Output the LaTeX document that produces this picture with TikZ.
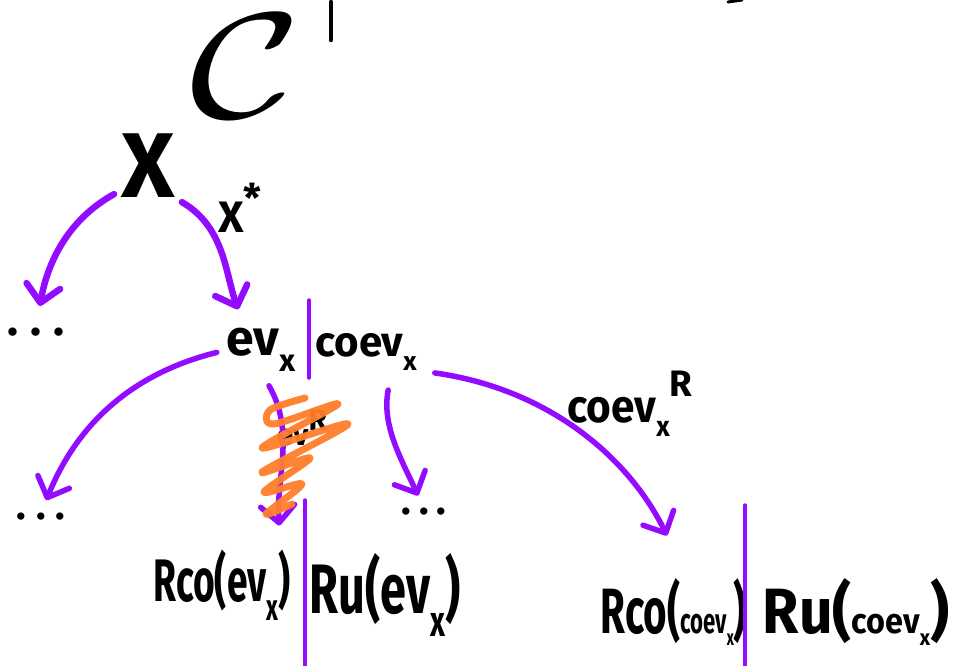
\documentclass[tikz,border=0pt]{standalone}
\usepackage{fontspec}
\setmainfont{Fira Sans}
\usetikzlibrary{arrows.meta}

\definecolor{marker}{RGB}{148,12,255}
\definecolor{scribble}{RGB}{255,126,42}

% font size helper and the little lowered x used for subscripts
\newcommand\fsz[1]{\fontsize{#1}{#1}\selectfont}
\newcommand\sbx{\raisebox{-0.32em}{\scalebox{0.62}{x}}}
\newcommand\hw[2]{\scalebox{#1}[1]{#2}}

\tikzset{
  ink/.style={inner sep=0pt, font=\bfseries, text=black},
  arr/.style={draw=marker, line width=5.5pt, line cap=round, line join=round,
    -{Straight Barb[length=17pt,width=34pt,round]}},
  sep/.style={draw=marker, line width=3.5pt, line cap=round},
  pen/.style={draw=black, line width=4.5pt, line cap=round},
}

\begin{document}
\begin{tikzpicture}[x=1pt,y=-1pt]
\useasboundingbox (0,0) rectangle (961,666);

% category name and the strokes around it
\node[ink] (cat) at (246,66) {\scalebox{19}[15]{$\mathcal{C}$}};
\draw[pen] (331,2) -- (331,40);
\draw[pen, line width=3pt] (728,2) -- (742,0);

% object and its dual
\node[ink] (X) at (148,166) {\fsz{92}X};
\node[ink] (xstar) at (240,208) {\fsz{44}X\raisebox{0.45em}{\scalebox{0.9}{*}}};

% first level
\node[ink] (dotsA) at (36,332) {\fsz{46}.\hspace{12pt}.\hspace{12pt}.};
\node[ink] (ev) at (261,350) {\fsz{50}ev\sbx};
\node[ink] (coev) at (366,352) {\fsz{42}coev\sbx};
\draw[sep] (309,300) -- (309,378);

% second level
\node[ink] (dotsB) at (41,517) {\fsz{40}.\hspace{10pt}.\hspace{10pt}.};
\node[ink] (dotsC) at (424,512) {\fsz{40}.\hspace{8pt}.\hspace{8pt}.};
\node[ink] (evR) at (302,428) {\fsz{30}ev\raisebox{0.5em}{R}};
\node[ink] (coevR) at (630,404) {\fsz{46}\hw{0.92}{coev\sbx}\raisebox{0.55em}{\scalebox{0.8}{R}}};

% results
\node[ink] (rcoEv) at (222,585) {\fsz{60}\hw{0.62}{Rco(ev\sbx)}};
\node[ink] (ruEv) at (385,595) {\fsz{70}\hw{0.67}{Ru(ev\sbx)}};
\draw[sep] (305,500) -- (305,666);
\node[ink] (rcoCoev) at (674,612) {\fsz{64}\hw{0.63}{Rco(\scalebox{0.55}{coev\sbx})}};
\node[ink] (ruCoev) at (856,612) {\fsz{64}\hw{0.92}{Ru(\scalebox{0.55}{coev\sbx})}};
\draw[sep] (745,505) -- (745,666);

% arrows
\draw[arr, line width=6.5pt, shorten <=8pt, shorten >=22pt]
  (X.222) to[out=209, in=80] (dotsA.north);
\draw[arr, line width=6.5pt, shorten <=8pt, shorten >=20pt]
  (X.310) to[out=330, in=110] ([xshift=-16pt]ev.north);
\draw[arr, shorten <=10pt, shorten >=14pt]
  (ev.west) to[out=194, in=68] (dotsB.north);
\draw[arr, shorten <=16pt, shorten >=24pt]
  (ev.south) to[out=300, in=95] ([xshift=-9pt]rcoEv.north east);
\draw[arr, shorten <=20pt, shorten >=14pt]
  ([xshift=26pt]coev.south) to[out=259, in=115] (dotsC.north);
\draw[arr, shorten <=18pt, shorten >=48pt]
  (coev.south east) to[out=352, in=116] ([xshift=14pt]rcoCoev.north);

% crossed-out arrow label
\draw[draw=scribble, line width=7pt, line cap=round, line join=round, opacity=0.95]
  plot[smooth, tension=0.55] coordinates {
    (305,398) (270,410) (274,424) (338,404) (262,448) (348,424)
    (262,472) (310,458) (264,492) (302,484) (266,514) (292,504)};
\end{tikzpicture}
\end{document}
